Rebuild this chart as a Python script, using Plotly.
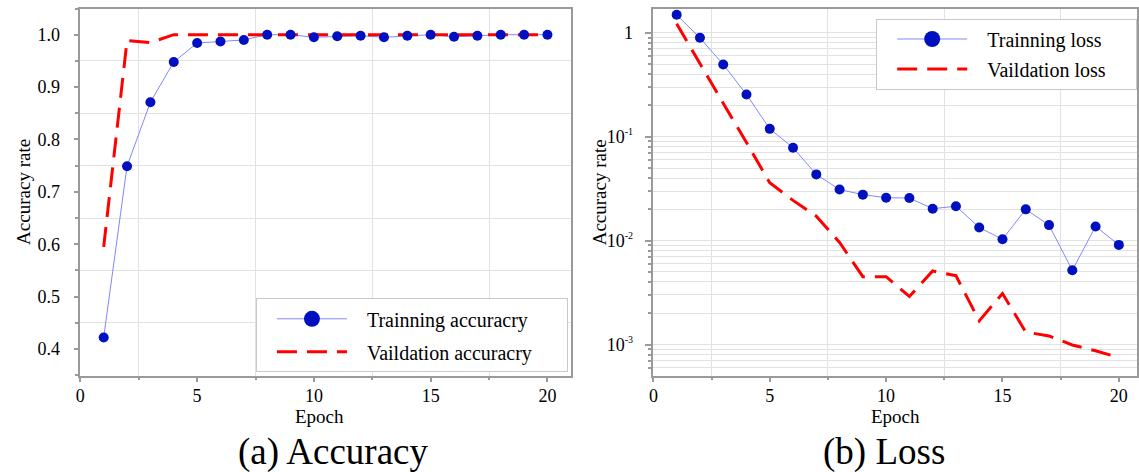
import plotly.graph_objects as go

# ---------------- data ----------------
epochs = list(range(1, 21))
train_acc = [0.422, 0.749, 0.871, 0.948, 0.984, 0.987, 0.990, 1.000, 1.000, 0.995,
             0.997, 0.998, 0.995, 0.998, 1.000, 0.996, 0.998, 1.000, 1.000, 1.000]
val_acc = [0.595, 0.989, 0.985, 1.000, 1.000, 1.000, 1.000, 1.000, 1.000, 1.000,
           1.000, 1.000, 1.000, 1.000, 1.000, 1.000, 1.000, 1.000, 1.000, 1.000]
train_loss = [1.49, 0.895, 0.496, 0.255, 0.119, 0.0784, 0.0434, 0.031, 0.0277, 0.0259,
              0.0257, 0.0203, 0.0214, 0.0134, 0.0103, 0.020, 0.0141, 0.00518, 0.0137, 0.0091]
val_loss = [1.22, 0.50, 0.21, 0.088, 0.036, 0.0244, 0.0172, 0.0096, 0.0045, 0.0045,
            0.0029, 0.0051, 0.0046, 0.00169, 0.0031, 0.00132, 0.00121, 0.00099, 0.00087, 0.00075]

x_ticks = [0, 5, 10, 15, 20]
acc_ticks = [0.4, 0.5, 0.6, 0.7, 0.8, 0.9, 1.0]
acc_ticktext = ["0.4", "0.5", "0.6", "0.7", "0.8", "0.9", "1.0"]
loss_ticks = [1, 0.1, 0.01, 0.001]
loss_ticktext = ["1",
                 "10<sup><span style='font-size:10px'>-1</span></sup>",
                 "10<sup><span style='font-size:10px'>-2</span></sup>",
                 "10<sup><span style='font-size:10px'>-3</span></sup>"]

# ---------------- style ----------------
W, H = 1139, 472
FONT = "Liberation Serif"
BLUE_LINE = "#8585ff"
BLUE_MK = "#0010c0"
RED = "#ff0000"
GRID = "#e2e2e2"
FRAME = "#9a9a9a"
DASH = "20px,10px"
LEAD = "&nbsp;" * 3

fig = go.Figure()

# ----- left panel: accuracy -----
fig.add_trace(go.Scatter(x=epochs, y=train_acc, mode="lines",
                         line=dict(color=BLUE_LINE, width=1),
                         showlegend=False, xaxis="x", yaxis="y"))
fig.add_trace(go.Scatter(x=epochs, y=val_acc, mode="lines",
                         line=dict(color=RED, width=3, dash=DASH),
                         showlegend=False, xaxis="x", yaxis="y"))
fig.add_trace(go.Scatter(x=epochs, y=train_acc, mode="markers",
                         marker=dict(color=BLUE_MK, size=10),
                         showlegend=False, xaxis="x", yaxis="y"))
fig.add_trace(go.Scatter(x=[None], y=[None], mode="lines+markers",
                         name=LEAD + "Trainning accuracry" + "&nbsp;" * 6,
                         line=dict(color=BLUE_LINE, width=1), marker=dict(color=BLUE_MK, size=16),
                         legend="legend", legendgroup="a1", xaxis="x", yaxis="y"))
fig.add_trace(go.Scatter(x=[None], y=[None], mode="lines",
                         name=LEAD + "Vaildation accuracry" + "&nbsp;" * 6,
                         line=dict(color=RED, width=3, dash=DASH),
                         legend="legend", legendgroup="a2", xaxis="x", yaxis="y"))

# ----- right panel: loss -----
fig.add_trace(go.Scatter(x=epochs, y=train_loss, mode="lines",
                         line=dict(color=BLUE_LINE, width=1),
                         showlegend=False, xaxis="x2", yaxis="y2"))
fig.add_trace(go.Scatter(x=epochs, y=val_loss, mode="lines",
                         line=dict(color=RED, width=3, dash=DASH),
                         showlegend=False, xaxis="x2", yaxis="y2"))
fig.add_trace(go.Scatter(x=epochs, y=train_loss, mode="markers",
                         marker=dict(color=BLUE_MK, size=10),
                         showlegend=False, xaxis="x2", yaxis="y2"))
fig.add_trace(go.Scatter(x=[None], y=[None], mode="lines+markers",
                         name=LEAD + "Trainning loss" + "&nbsp;" * 5,
                         line=dict(color=BLUE_LINE, width=1), marker=dict(color=BLUE_MK, size=16),
                         legend="legend2", legendgroup="b1", xaxis="x2", yaxis="y2"))
fig.add_trace(go.Scatter(x=[None], y=[None], mode="lines",
                         name=LEAD + "Vaildation loss" + "&nbsp;" * 5,
                         line=dict(color=RED, width=3, dash=DASH),
                         legend="legend2", legendgroup="b2", xaxis="x2", yaxis="y2"))

tickfont = dict(family=FONT, size=18, color="black")

def xaxis_cfg(domain, rng, anchor):
    return dict(domain=domain, range=rng, anchor=anchor,
                tickmode="array", tickvals=x_ticks, ticktext=[str(v) for v in x_ticks],
                ticks="outside", ticklen=5, tickcolor=FRAME, tickwidth=1.5,
                showgrid=False, zeroline=False,
                showline=True, mirror=True, linecolor=FRAME, linewidth=1.5,
                tickfont=tickfont, ticklabelstandoff=-2,
                minor=dict(tickmode="linear", tick0=2.5, dtick=5, ticks="outside",
                           ticklen=3, tickcolor=FRAME, showgrid=True,
                           gridcolor=GRID, gridwidth=1))

ydom = [1 - 375.7 / H, 1 - 8.5 / H]

def legend_cfg(x, y, gap):
    return dict(x=x, y=y, xanchor="left", yanchor="top",
                bgcolor="white", bordercolor="#c8c8c8", borderwidth=1,
                font=dict(family=FONT, size=20, color="black"),
                itemwidth=70, indentation=15, tracegroupgap=gap)

def ann(text, x, y, size, angle=0):
    return dict(text=text, x=x / W, y=1 - y / H, xref="paper", yref="paper",
                xanchor="center", yanchor="middle", showarrow=False, textangle=angle,
                font=dict(family=FONT, size=size, color="black"))

fig.update_layout(
    width=W, height=H,
    margin=dict(l=0, r=0, t=0, b=0),
    paper_bgcolor="white", plot_bgcolor="white",
    xaxis=xaxis_cfg([75.8 / W, 569.3 / W], [0, 21], "y"),
    xaxis2=xaxis_cfg([652.4 / W, 1.0], [0, 20.78], "y2"),
    yaxis=dict(domain=ydom, range=[0.349, 1.05], anchor="x",
               tickmode="array", tickvals=acc_ticks, ticktext=acc_ticktext,
               ticks="outside", ticklen=5, tickcolor=FRAME, tickwidth=1.5,
               showgrid=False, zeroline=False,
               showline=True, mirror=True, linecolor=FRAME, linewidth=1.5,
               tickfont=tickfont, ticklabelstandoff=10,
               minor=dict(tickmode="linear", tick0=0.05, dtick=0.1, ticks="outside",
                          ticklen=4, tickcolor=FRAME, showgrid=True,
                          gridcolor=GRID, gridwidth=1)),
    yaxis2=dict(domain=ydom, type="log", range=[-3.30, 0.234], anchor="x2",
                tickmode="array", tickvals=loss_ticks, ticktext=loss_ticktext,
                ticks="outside", ticklen=7, tickcolor=FRAME, tickwidth=1.5,
                showgrid=True, gridcolor=GRID, gridwidth=1, zeroline=False,
                showline=True, mirror=True, linecolor=FRAME, linewidth=1.5,
                tickfont=tickfont, ticklabelstandoff=8,
                minor=dict(tickmode="linear", dtick="D1", ticks="outside",
                           ticklen=4, tickcolor=FRAME, showgrid=True,
                           gridcolor=GRID, gridwidth=1)),
    legend=legend_cfg(252.5 / W, 1 - 298.3 / H, 4),
    legend2=legend_cfg(876.6 / W, 1 - 18.5 / H, 1),
    annotations=[
        ann("Epoch", 316.7, 416, 19),
        ann("Epoch", 895.6, 416, 19),
        ann("Accuracy rate", 18, 192, 19, -90),
        ann("Accuracy rate", 598, 192, 19, -90),
        ann("(a) Accuracy", 330.5, 452, 37),
        ann("(b) Loss", 884, 452, 37),
    ],
)

fig.write_html("out.html")
